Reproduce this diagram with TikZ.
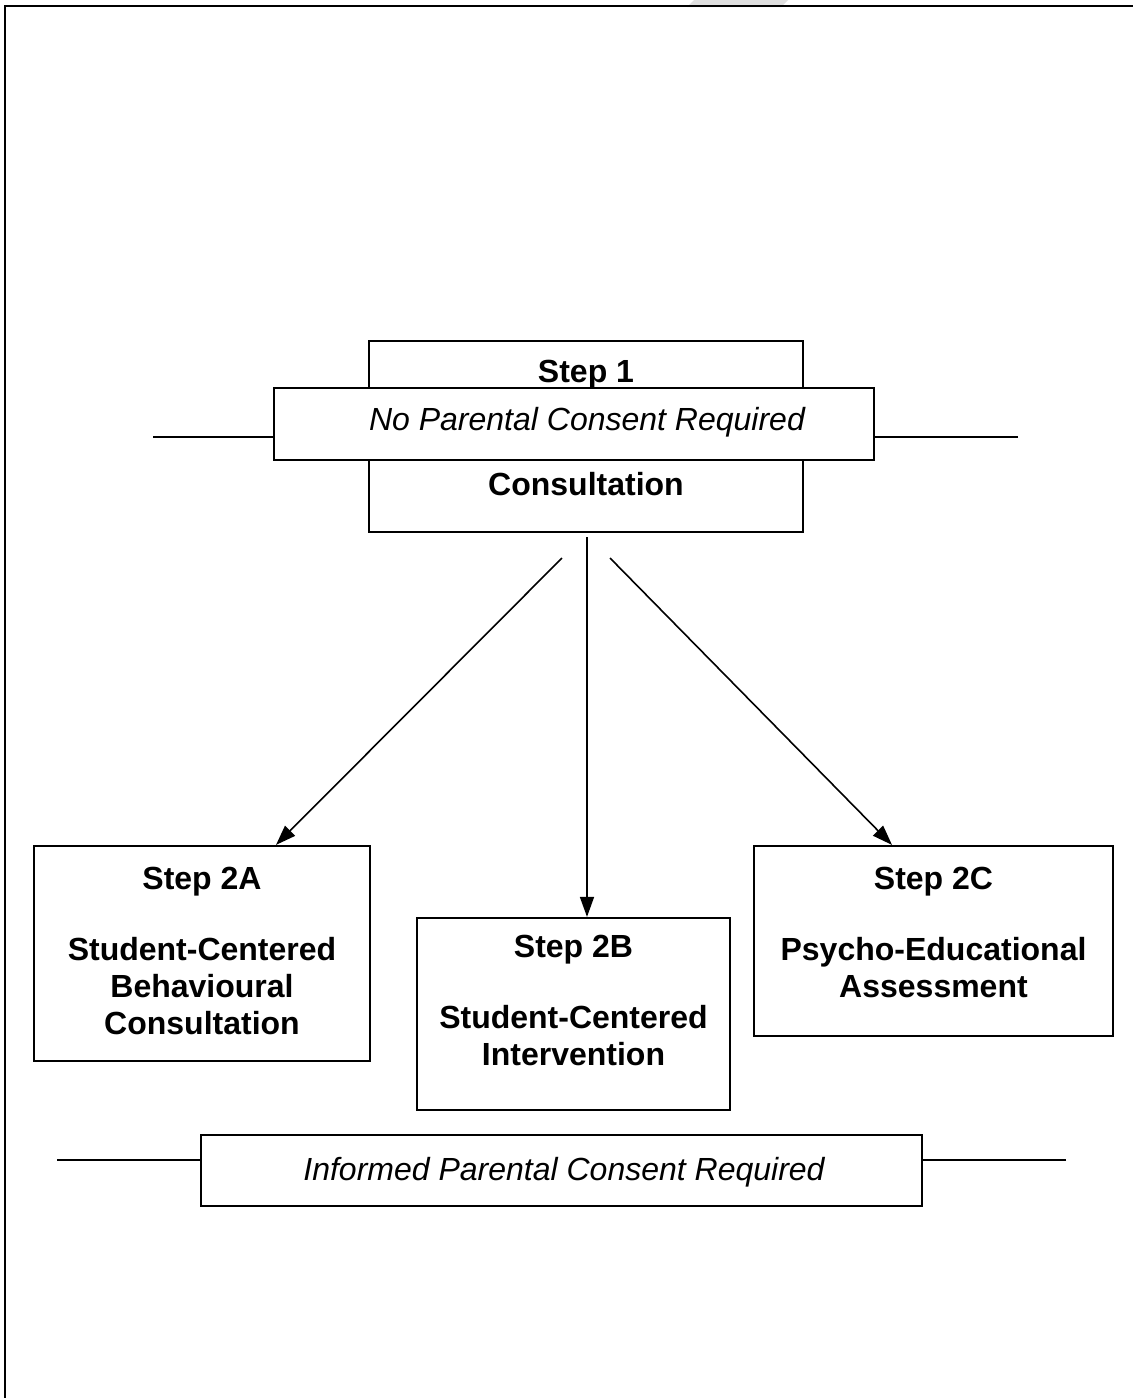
\documentclass[tikz,border=0pt]{standalone}
\usepackage{fontspec}
\setmainfont{Liberation Sans}
\usetikzlibrary{arrows.meta,calc}
\begin{document}
\begin{tikzpicture}[x=0.5pt,y=-0.5pt]
\tikzstyle{box}=[draw, line width=1.1pt, inner sep=0pt, fill=white]
\tikzstyle{txt}=[inner sep=0pt, anchor=north, align=center, font=\fontsize{16}{18.4}\selectfont\bfseries]
\tikzstyle{itxt}=[inner sep=0pt, anchor=base, font=\fontsize{16}{18.4}\selectfont\itshape]
\tikzstyle{arr}=[line width=0.8pt, -{Triangle[length=10pt,width=7pt]}]
\useasboundingbox (0,0) rectangle (1133,1398);
\fill[gray!25] (694,0) -- (788,0) -- (781,7) -- (687,7) -- cycle;
\draw[line width=1.2pt] (1133,6) -- (5,6) -- (5,1398);
\node[box, minimum width=217pt, minimum height=95.5pt] (s1) at (586,436.5) {};
\coordinate (nl) at (153,437);
\coordinate (nr) at (1018,437);
\node[box, minimum width=300pt, minimum height=36pt] (noc) at (574,424) {};
\draw[line width=1.1pt] (nl) -- (nl -| noc.west);
\draw[line width=1.1pt] (nr) -- (nr -| noc.east);
\node[txt] (t1) at (586,360) {Step 1};
\node[itxt] (tnoc) at (587,430) {No Parental Consent Required};
\node[txt] (t1b) at (586,472) {Consultation};
\node[box, minimum width=168pt, minimum height=107.5pt] (s2a) at (202,953.5) {};
\node[box, minimum width=156.5pt, minimum height=96pt] (s2b) at (573.5,1014) {};
\node[box, minimum width=179.5pt, minimum height=95pt] (s2c) at (933.5,941) {};
\node[txt] (t2a) at (202,867) {Step 2A\\[17pt]Student-Centered\\Behavioural\\Consultation};
\node[txt] (t2b) at (573.5,935) {Step 2B\\[17pt]Student-Centered\\Intervention};
\node[txt] (t2c) at (933.5,867) {Step 2C\\[17pt]Psycho-Educational\\Assessment};
\coordinate (c2a) at (562,558);
\coordinate (c2b) at (587,537);
\coordinate (c2c) at (610,558);
\draw[arr] (c2a) -- ($(s2a.north)+(74,0)$);
\draw[arr] (c2b) -- (c2b |- s2b.north);
\draw[arr] (c2c) -- ($(s2c.north)+(-41.5,0)$);
\node[box, minimum width=360.5pt, minimum height=35.5pt] (inf) at (561.5,1170.5) {};
\coordinate (il) at (57,1160);
\coordinate (ir) at (1066,1160);
\draw[line width=1.1pt] (il) -- (il -| inf.west);
\draw[line width=1.1pt] (ir) -- (ir -| inf.east);
\node[itxt] (tinf) at (564,1180) {Informed Parental Consent Required};
\end{tikzpicture}
\end{document}
